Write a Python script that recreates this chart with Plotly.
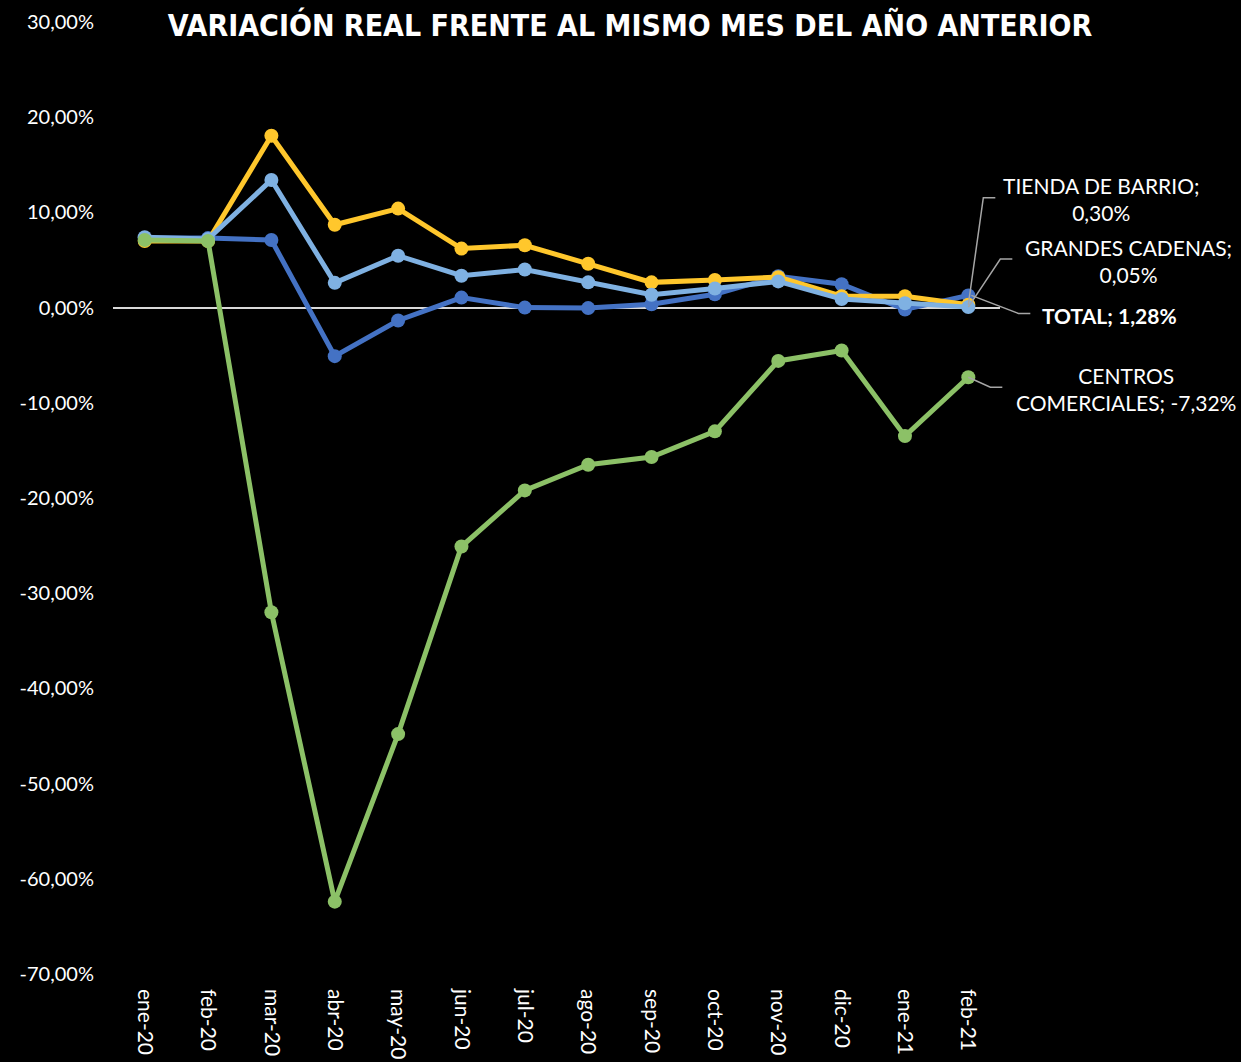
import plotly.graph_objects as go

months = ["ene-20", "feb-20", "mar-20", "abr-20", "may-20", "jun-20", "jul-20",
          "ago-20", "sep-20", "oct-20", "nov-20", "dic-20", "ene-21", "feb-21"]

total = [7.3, 7.3, 7.1, -5.1, -1.35, 1.05, 0.0, -0.05, 0.35, 1.4, 3.3, 2.45, -0.2, 1.28]
tienda_barrio = [7.0, 7.0, 18.05, 8.7, 10.4, 6.2, 6.55, 4.6, 2.65, 2.9, 3.2, 1.2, 1.2, 0.30]
grandes_cadenas = [7.4, 7.2, 13.4, 2.6, 5.45, 3.35, 4.0, 2.65, 1.35, 2.0, 2.75, 0.9, 0.45, 0.05]
centros_comerciales = [7.1, 7.0, -32.0, -62.4, -44.8, -25.1, -19.2, -16.5, -15.7, -13.0, -5.6, -4.5, -13.5, -7.32]

y_ticks = [30, 20, 10, 0, -10, -20, -30, -40, -50, -60, -70]
y_ticktext = [f"{v:.2f}%".replace(".", ",") for v in y_ticks]

series = [
    ("TOTAL", total, "#4472C4"),
    ("TIENDA DE BARRIO", tienda_barrio, "#FFC72C"),
    ("GRANDES CADENAS", grandes_cadenas, "#7FB1E2"),
    ("CENTROS COMERCIALES", centros_comerciales, "#8CC167"),
]

Y_MIN, Y_MAX = -70, 30
X_RANGE = [-0.5, len(months) - 0.5]

FONT = "Lato"
fig = go.Figure()
for name, vals, col in series:
    fig.add_trace(go.Scatter(
        x=months, y=vals, name=name, mode="lines+markers",
        line=dict(color=col, width=5),
        marker=dict(color=col, size=14),
    ))

last_idx = len(months) - 1
last = months[last_idx]
x_paper = (last_idx - X_RANGE[0]) / (X_RANGE[1] - X_RANGE[0])

labels = [
    # text, value, xshift, yshift, xanchor, leader path (pixels, y up)
    ("TIENDA DE BARRIO;<br>0,30%", tienda_barrio[-1], 133, 106, "center", "M0,0 L15,107 L27,107"),
    ("GRANDES CADENAS;<br>0,05%", grandes_cadenas[-1], 160, 46, "center", "M0,0 L32,48 L44,48"),
    ("<b>TOTAL; 1,28%</b>", total[-1], 72, -20, "left", "M3,0 L50,-18 L62,-18"),
    ("CENTROS<br>COMERCIALES; -7,32%", centros_comerciales[-1], 158, -12, "center", "M0,0 L22,-10 L34,-10"),
]
for text, v, xs, ys, xa, path in labels:
    fig.add_annotation(x=last, y=v, xref="x", yref="y", text=text, showarrow=False,
                       xshift=xs, yshift=ys, xanchor=xa, yanchor="middle", align="center",
                       font=dict(family=FONT, size=21, color="#FFFFFF"))
    y_paper = (v - Y_MIN) / (Y_MAX - Y_MIN)
    fig.add_shape(type="path", xref="paper", yref="paper", xsizemode="pixel", ysizemode="pixel",
                  xanchor=x_paper, yanchor=y_paper, path=path,
                  line=dict(color="#A6A6A6", width=1.5), layer="above")

fig.update_layout(
    width=1241, height=1062,
    paper_bgcolor="#000000", plot_bgcolor="#000000",
    margin=dict(l=113, r=241, t=22, b=88),
    showlegend=False,
    title=dict(text="<b>VARIACIÓN REAL FRENTE AL MISMO MES DEL AÑO ANTERIOR</b>",
               x=(172 + 1088) / 2 / 1241, xanchor="center", y=1 - 25 / 1062, yanchor="middle",
               font=dict(family="DejaVu Sans Condensed, Lato", size=30, color="#FFFFFF")),
    xaxis=dict(type="category", range=X_RANGE, autorange=False, automargin=False,
               showgrid=False, zeroline=False, showline=False,
               tickangle=90, ticks="", ticklabelstandoff=14,
               tickfont=dict(family=FONT, size=21, color="#FFFFFF")),
    yaxis=dict(range=[Y_MIN, Y_MAX], autorange=False, automargin=False, showgrid=False,
               zeroline=True, zerolinecolor="#D9D9D9", zerolinewidth=2, showline=False,
               ticks="", tickvals=y_ticks, ticktext=y_ticktext, ticklabelstandoff=18,
               tickfont=dict(family=FONT, size=20, color="#FFFFFF")),
)

fig.write_html("out.html", config={"displayModeBar": False},
               post_script="document.body.style.margin='0px';")
